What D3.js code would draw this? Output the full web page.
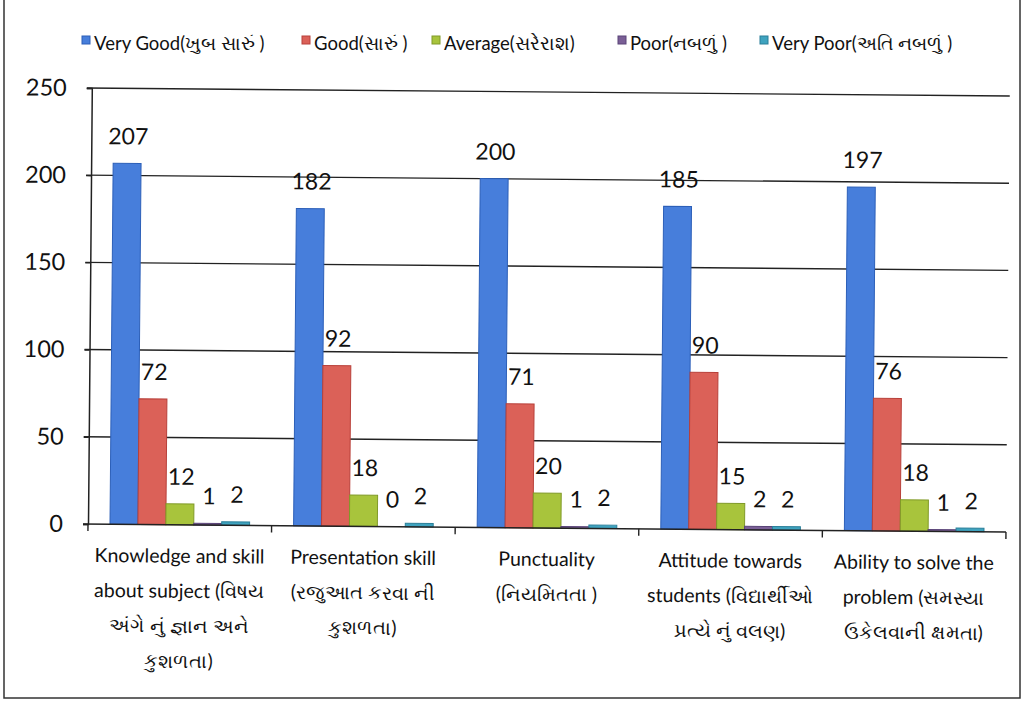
<!DOCTYPE html>
<html><head><meta charset="utf-8">
<script src="https://cdn.jsdelivr.net/npm/d3@7"></script>
<style>
html,body{margin:0;padding:0;background:#fff;}
svg{display:block;font-family:Lato,"Open Sans","Noto Sans",sans-serif;}
</style></head>
<body>
<svg id="c" width="1025" height="704"></svg>
<script>
const categories = [
  ["Knowledge and skill", "about subject (વિષય", "અંગે નું જ્ઞાન અને", "કુશળતા)"],
  ["Presentation skill", "(રજુઆત કરવા ની", "કુશળતા)"],
  ["Punctuality", "(નિયમિતતા )"],
  ["Attitude towards", "students (વિદ્યાર્થીઓ", "પ્રત્યે નું  વલણ)"],
  ["Ability to solve the", "problem (સમસ્યા", "ઉકેલવાની ક્ષમતા)"]
];
const seriesNames = ["Very Good(ખુબ સારું )", "Good(સારું )", "Average(સરેરાશ)", "Poor(નબળું )", "Very Poor(અતિ નબળું )"];
const veryGood = [207, 182, 200, 185, 197];
const good = [72, 92, 71, 90, 76];
const average = [12, 18, 20, 15, 18];
const poor = [1, 0, 1, 2, 1];
const veryPoor = [2, 2, 2, 2, 2];
const yTicks = [0, 50, 100, 150, 200, 250];
const colors = ["#477edb", "#db6158", "#a8c43c", "#7a5f96", "#3fa3bf"];
const edge = ["#2c5fb8", "#b8403a", "#809a28", "#5a4478", "#2a7f99"];

const series = [veryGood, good, average, poor, veryPoor];
const svg = d3.select("#c");

// frame
svg.append("rect").attr("x",4).attr("y",-5).attr("width",1016).attr("height",703)
  .attr("fill","none").attr("stroke","#333").attr("stroke-width",1.5);

const L = 88, R = 1006, T = 88, B = 524;
const g = svg.append("g").attr("transform", `rotate(0.5, ${L}, ${B})`);

const x0 = d3.scaleBand().domain(d3.range(categories.length)).range([L, R]).padding(0);
const x1 = d3.scaleBand().domain(d3.range(series.length)).range([22, x0.bandwidth() - 22]).padding(0);
const y = d3.scaleLinear().domain([0, 250]).range([B, T]);

// gridlines
g.append("g").selectAll("line").data(yTicks.filter(d=>d>0)).join("line")
  .attr("x1", L-5).attr("x2", R).attr("y1", d=>y(d)).attr("y2", d=>y(d))
  .attr("stroke","#222").attr("stroke-width",1.4);

// y axis
const yAxis = g.append("g").attr("transform",`translate(${L},0)`)
  .call(d3.axisLeft(y).tickValues(yTicks).tickSize(5).tickPadding(20));
yAxis.select(".domain").attr("stroke","#222").attr("stroke-width",1.5);
yAxis.selectAll(".tick line").attr("stroke","#222").attr("stroke-width",1.4);
yAxis.selectAll("text").attr("font-size",23.5).attr("fill","#111").attr("font-family","Lato,'Open Sans',sans-serif");

// bars
const groups = g.append("g").selectAll("g").data(categories).join("g")
  .attr("transform",(d,i)=>`translate(${x0(i)},0)`);
groups.each(function(c, ci){
  const gg = d3.select(this);
  series.forEach((s, si)=>{
    const v = s[ci];
    gg.append("rect")
      .attr("x", x1(si)).attr("width", x1.bandwidth())
      .attr("y", y(v)).attr("height", Math.max(0, y(0)-y(v)))
      .attr("fill", colors[si]).attr("stroke", edge[si]).attr("stroke-width", 1);
    gg.append("text")
      .attr("x", x1(si) + x1.bandwidth()/2 + 1)
      .attr("y", y(v) - 19)
      .attr("text-anchor","middle").attr("font-size",23).attr("fill","#111")
      .text(v);
  });
});

// x axis
const xAxis = g.append("g").attr("transform",`translate(0,${B})`);
xAxis.append("line").attr("x1",L-5).attr("x2",R).attr("stroke","#222").attr("stroke-width",1.5);
xAxis.selectAll(".tk").data(d3.range(categories.length+1)).join("line")
  .attr("x1", i=> i<categories.length ? x0(i) : R).attr("x2", i=> i<categories.length ? x0(i) : R)
  .attr("y1",0).attr("y2",7).attr("stroke","#222").attr("stroke-width",1.4);
categories.forEach((lines, i)=>{
  const t = xAxis.append("text").attr("text-anchor","middle")
    .attr("font-size",19.5).attr("fill","#111");
  lines.forEach((ln, k)=>{
    t.append("tspan").attr("x", x0(i)+x0.bandwidth()/2).attr("y", 38 + k*35).text(ln);
  });
});

// legend
const legX = [82, 302, 432, 618, 760];
const leg = svg.append("g");
seriesNames.forEach((n, i)=>{
  const lg = leg.append("g").attr("transform",`translate(${legX[i]},44)`);
  lg.append("rect").attr("x",0).attr("y",-8).attr("width",8).attr("height",8)
    .attr("fill",colors[i]).attr("stroke",edge[i]);
  lg.append("text").attr("x",12).attr("y",6).attr("font-size",18.5).attr("fill","#111").text(n);
});
</script>
</body></html>
